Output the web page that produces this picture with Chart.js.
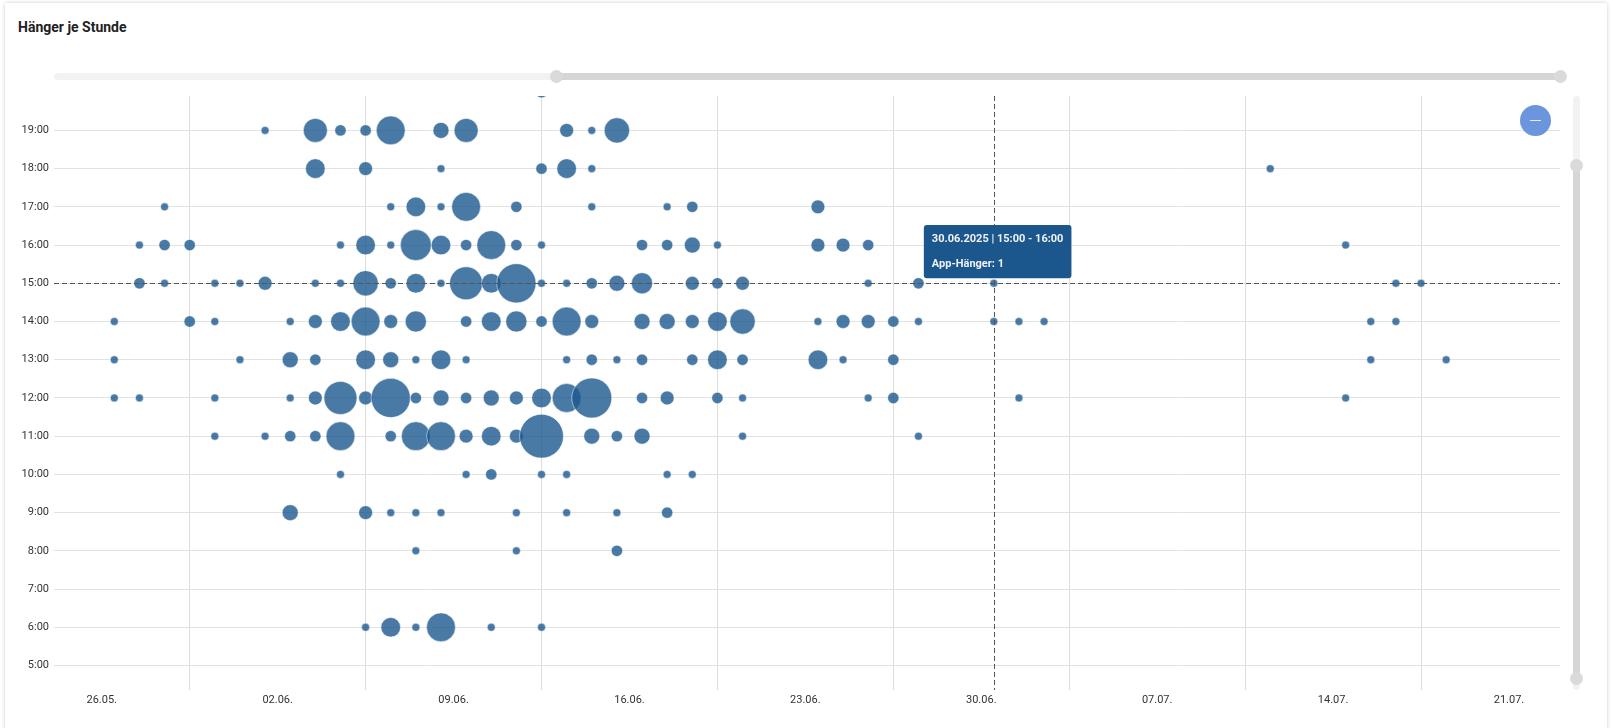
<!DOCTYPE html>
<html lang="de">
<head>
  <meta charset="UTF-8">
  <title>Hänger je Stunde</title>
  <script src="https://cdn.jsdelivr.net/npm/chart.js"></script>
  <style>
    html, body { margin: 0; padding: 0; background: #fff; font-family: Roboto, 'Noto Sans', sans-serif; }
    body { width: 1614px; height: 728px; position: relative; overflow: hidden; }
    .card { position: absolute; left: 5px; top: 3px; width: 1602px; height: 730px; background: #fff;
            box-shadow: 0 0 4px rgba(0, 0, 0, 0.2); border-radius: 2px; }
    .card h3 { position: absolute; left: 13px; top: 16px; margin: 0; font-size: 14px; font-weight: 700; color: #222; }
    #hourChart { position: absolute; left: 0; top: 0; }
    /* data zoom sliders */
    .track { position: absolute; background: #f2f2f2; border-radius: 4px; }
    .range { position: absolute; background: #d6d6d6; }
    .handle { position: absolute; width: 13px; height: 13px; border-radius: 50%; background: #dadada; }
    .zoom-btn { position: absolute; left: 1520px; top: 105px; width: 31px; height: 31px; border-radius: 50%; background: #6b96dd; }
    .zoom-btn::after { content: ''; position: absolute; left: 10px; top: 15px; width: 11px; height: 1px; background: #e4ecfa; }
  </style>
</head>
<body>
  <div class="card"><h3>Hänger je Stunde</h3></div>
  <canvas id="hourChart" width="1614" height="728"></canvas>

  <div class="track" style="left:54px; top:73px; width:1506px; height:7px;"></div>
  <div class="range" style="left:556px; top:73px; width:1004px; height:7px;"></div>
  <div class="handle" style="left:549.5px; top:70px;"></div>
  <div class="handle" style="left:1553.5px; top:70px;"></div>

  <div class="track" style="left:1572.5px; top:96px; width:7px; height:594px;"></div>
  <div class="range" style="left:1572.5px; top:165px; width:7px; height:513px;"></div>
  <div class="handle" style="left:1569.5px; top:158.5px;"></div>
  <div class="handle" style="left:1569.5px; top:671.5px;"></div>

  <div class="zoom-btn"></div>

  <script>
    // Hänger per hour: [date, count] for each hour of the day
    const hour20 = [['12.06', 2]];
    const hour19 = [['01.06', 1], ['03.06', 9], ['04.06', 2], ['05.06', 2], ['06.06', 13], ['08.06', 4], ['09.06', 9],
                    ['13.06', 3], ['14.06', 1], ['15.06', 10]];
    const hour18 = [['03.06', 6], ['05.06', 3], ['08.06', 1], ['12.06', 2], ['13.06', 6], ['14.06', 1], ['11.07', 1]];
    const hour17 = [['28.05', 1], ['06.06', 1], ['07.06', 6], ['08.06', 1], ['09.06', 13], ['11.06', 2], ['14.06', 1],
                    ['17.06', 1], ['18.06', 2], ['23.06', 3]];
    const hour16 = [['27.05', 1], ['28.05', 2], ['29.05', 2], ['04.06', 1], ['05.06', 6], ['06.06', 1], ['07.06', 15],
                    ['08.06', 6], ['09.06', 2], ['10.06', 13], ['11.06', 2], ['12.06', 1], ['16.06', 2], ['17.06', 2],
                    ['18.06', 4], ['19.06', 1], ['23.06', 3], ['24.06', 3], ['25.06', 2], ['14.07', 1]];
    const hour15 = [['27.05', 2], ['28.05', 1], ['30.05', 1], ['31.05', 1], ['01.06', 3], ['03.06', 1], ['04.06', 1],
                    ['05.06', 10], ['06.06', 2], ['07.06', 6], ['08.06', 1], ['09.06', 17], ['10.06', 6], ['11.06', 24],
                    ['12.06', 1], ['13.06', 1], ['14.06', 2], ['15.06', 4], ['16.06', 7], ['18.06', 3], ['19.06', 2],
                    ['20.06', 3], ['25.06', 1], ['27.06', 2], ['30.06', 1], ['16.07', 1], ['17.07', 1]];
    const hour14 = [['26.05', 1], ['29.05', 2], ['30.05', 1], ['02.06', 1], ['03.06', 3], ['04.06', 6], ['05.06', 13],
                    ['06.06', 3], ['07.06', 7], ['09.06', 2], ['10.06', 6], ['11.06', 7], ['12.06', 2], ['13.06', 13],
                    ['14.06', 3], ['16.06', 4], ['17.06', 4], ['18.06', 3], ['19.06', 6], ['20.06', 10], ['23.06', 1],
                    ['24.06', 3], ['25.06', 3], ['26.06', 2], ['27.06', 1], ['30.06', 1], ['01.07', 1], ['02.07', 1],
                    ['15.07', 1], ['16.07', 1]];
    const hour13 = [['26.05', 1], ['31.05', 1], ['02.06', 4], ['03.06', 2], ['05.06', 6], ['06.06', 4], ['07.06', 1],
                    ['08.06', 6], ['09.06', 1], ['13.06', 1], ['14.06', 2], ['15.06', 1], ['16.06', 2], ['18.06', 2],
                    ['19.06', 6], ['20.06', 2], ['23.06', 6], ['24.06', 1], ['26.06', 2], ['15.07', 1], ['18.07', 1]];
    const hour12 = [['26.05', 1], ['27.05', 1], ['30.05', 1], ['02.06', 1], ['03.06', 3], ['04.06', 17], ['05.06', 3],
                    ['06.06', 24], ['07.06', 2], ['08.06', 4], ['09.06', 2], ['10.06', 4], ['11.06', 3], ['12.06', 6],
                    ['13.06', 13], ['14.06', 25], ['16.06', 2], ['17.06', 3], ['19.06', 2], ['20.06', 1], ['25.06', 1],
                    ['26.06', 2], ['01.07', 1], ['14.07', 1]];
    const hour11 = [['30.05', 1], ['01.06', 1], ['02.06', 2], ['03.06', 2], ['04.06', 13], ['06.06', 2], ['07.06', 13],
                    ['08.06', 13], ['09.06', 3], ['10.06', 6], ['11.06', 3], ['12.06', 30], ['14.06', 4], ['15.06', 2],
                    ['16.06', 4], ['20.06', 1], ['27.06', 1]];
    const hour10 = [['04.06', 1], ['09.06', 1], ['10.06', 2], ['12.06', 1], ['13.06', 1], ['17.06', 1], ['18.06', 1]];
    const hour9 = [['02.06', 4], ['05.06', 3], ['06.06', 1], ['07.06', 1], ['08.06', 1], ['11.06', 1], ['13.06', 1],
                   ['15.06', 1], ['17.06', 2]];
    const hour8 = [['07.06', 1], ['11.06', 1], ['15.06', 2]];
    const hour6 = [['05.06', 1], ['06.06', 6], ['07.06', 1], ['08.06', 13], ['10.06', 1], ['12.06', 1]];

    // axis ticks
    const weekTicks = ['26.05.', '02.06.', '09.06.', '16.06.', '23.06.', '30.06.', '07.07.', '14.07.', '21.07.'];
    const hourTicks = [5, 6, 7, 8, 9, 10, 11, 12, 13, 14, 15, 16, 17, 18, 19];

    const year = 2025;
    const startDay = Date.UTC(year, 4, 26);
    // days since 26.05., so every date sits at noon of its day
    function dayIndex(str) {
      const [d, m] = str.split('.').map(Number);
      return (Date.UTC(year, m - 1, d) - startDay) / 86400000;
    }

    const rows = [[6, hour6], [8, hour8], [9, hour9], [10, hour10], [11, hour11], [12, hour12], [13, hour13],
                  [14, hour14], [15, hour15], [16, hour16], [17, hour17], [18, hour18], [19, hour19], [20, hour20]];

    const points = [];
    rows.forEach(([hour, list]) => {
      list.forEach(([date, count]) => {
        points.push({ x: dayIndex(date) + 0.5, y: hour, r: 4 * Math.sqrt(count), count, date, hour });
      });
    });

    // the hovered bubble in the screenshot
    const hovered = points.findIndex(p => p.date === '30.06' && p.hour === 15);

    Chart.Tooltip.positioners.pinned = function (items) {
      if (!items.length) return false;
      const el = items[0].element;
      return { x: el.x - 67, y: el.y - 5 };
    };

    // dashed crosshair through the active bubble
    const crosshair = {
      id: 'crosshair',
      afterDatasetsDraw(chart) {
        const active = chart.tooltip.getActiveElements();
        if (!active.length) return;
        const { x, y } = active[0].element;
        const { left, right, top, bottom } = chart.chartArea;
        const ctx = chart.ctx;
        ctx.save();
        ctx.strokeStyle = '#555';
        ctx.lineWidth = 1;
        ctx.setLineDash([5, 3]);
        ctx.beginPath();
        ctx.moveTo(left, Math.round(y) + 0.5);
        ctx.lineTo(right, Math.round(y) + 0.5);
        ctx.moveTo(Math.round(x) + 0.5, top);
        ctx.lineTo(Math.round(x) + 0.5, bottom);
        ctx.stroke();
        ctx.restore();
      }
    };

    const tickFont = { family: 'Roboto', size: 11 };

    const ctx = document.getElementById('hourChart').getContext('2d');
    const hourChart = new Chart(ctx, {
      type: 'bubble',
      data: {
        datasets: [{
          label: 'App-Hänger',
          data: points,
          backgroundColor: 'rgba(28, 88, 143, 0.8)',
          borderColor: 'rgba(255, 255, 255, 0.5)',
          borderWidth: 1,
          hoverRadius: 0,
          hoverBorderWidth: 1,
          hoverBackgroundColor: 'rgba(28, 88, 143, 0.8)',
          clip: 0
        }]
      },
      options: {
        responsive: false,
        animation: false,
        events: [],
        layout: { padding: { top: 96, right: 54, bottom: 18, left: 0 } },
        scales: {
          x: {
            type: 'linear',
            min: -1.9,
            max: 58.03,
            afterBuildTicks: s => { s.ticks = weekTicks.map(t => ({ value: dayIndex(t) })); },
            afterFit: s => { s.height = 20; },
            ticks: { callback: (v, i) => weekTicks[i], color: '#333', font: tickFont, padding: 4, maxRotation: 0, autoSkip: false },
            grid: { offset: true, color: '#dcdcdc', drawTicks: false },
            border: { display: false }
          },
          y: {
            min: 4.36,
            max: 19.9,
            afterBuildTicks: s => { s.ticks = hourTicks.map(h => ({ value: h })); },
            afterFit: s => { s.width = 54; },
            ticks: { callback: v => v + ':00', color: '#333', font: tickFont, padding: 5 },
            grid: { color: '#e2e2e2', drawTicks: false },
            border: { display: false }
          }
        },
        plugins: {
          legend: { display: false },
          tooltip: {
            position: 'pinned',
            xAlign: 'left',
            yAlign: 'bottom',
            backgroundColor: '#1b568d',
            titleColor: 'rgba(255, 255, 255, 0.93)',
            bodyColor: 'rgba(255, 255, 255, 0.93)',
            titleFont: { family: 'Roboto', size: 11, weight: 'bold' },
            bodyFont: { family: 'Roboto', size: 11, weight: 'bold' },
            padding: { top: 8, bottom: 7, left: 8, right: 8 },
            titleMarginBottom: 12,
            caretSize: 0,
            caretPadding: 0,
            cornerRadius: 3,
            displayColors: false,
            callbacks: {
              title: items => {
                const p = items[0].raw;
                return p.date + '.' + year + ' | ' + p.hour + ':00 - ' + (p.hour + 1) + ':00';
              },
              label: item => 'App-Hänger: ' + item.raw.count
            }
          }
        }
      },
      plugins: [crosshair]
    });

    const el = hourChart.getDatasetMeta(0).data[hovered];
    hourChart.tooltip.setActiveElements([{ datasetIndex: 0, index: hovered }], { x: el.x, y: el.y });
    hourChart.update();
  </script>
</body>
</html>
